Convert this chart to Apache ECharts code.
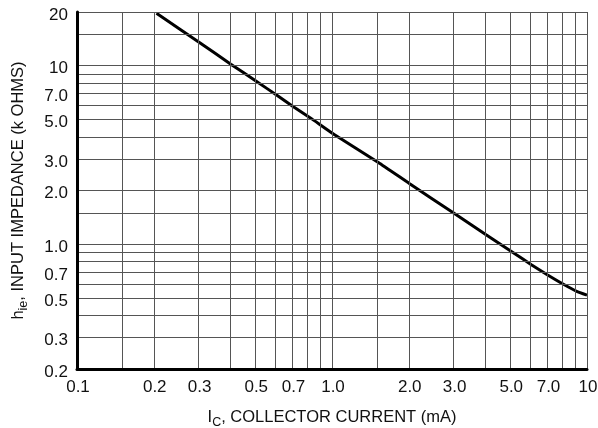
<!DOCTYPE html>
<html>
<head>
<meta charset="utf-8">
<script src="https://cdn.jsdelivr.net/npm/echarts@6/dist/echarts.min.js"></script>
<style>html,body{margin:0;padding:0;background:#fff}#c{width:598px;height:428px}</style>
</head>
<body>
<div id="c"></div>
<script>
// Collector current (mA) and input impedance (k ohms)
const currentMA = [0.205, 0.302, 0.401, 0.503, 0.612, 0.701, 0.82, 1.02, 1.52, 2.01, 2.99, 4.02, 5.07, 6.07, 7.01, 8.15, 9.11, 10];
const hieKOhm   = [19.7, 13.5, 10.2, 8.21, 6.79, 5.93, 5.12, 4.12, 2.87, 2.19, 1.50, 1.13, 0.908, 0.765, 0.673, 0.593, 0.545, 0.519];

// grid lines
const xGrid = [0.15, 0.2, 0.3, 0.4, 0.5, 0.6, 0.7, 0.8, 0.9, 1.0, 1.5, 2, 3, 4, 5, 6, 7, 8, 9, 10];
const yGrid = [0.3, 0.4, 0.5, 0.6, 0.7, 0.8, 0.9, 1.0, 1.5, 2, 3, 4, 5, 6, 7, 8, 9, 10, 15, 20];
// tick labels
const xTickValues = [0.1, 0.2, 0.3, 0.5, 0.7, 1.0, 2.0, 3.0, 5.0, 7.0, 10];
const xTickLabels = ['0.1', '0.2', '0.3', '0.5', '0.7', '1.0', '2.0', '3.0', '5.0', '7.0', '10'];
const yTickValues = [0.2, 0.3, 0.5, 0.7, 1.0, 2.0, 3.0, 5.0, 7.0, 10, 20];
const yTickLabels = ['0.2', '0.3', '0.5', '0.7', '1.0', '2.0', '3.0', '5.0', '7.0', '10', '20'];

const FONT = '"Liberation Sans", Arial, sans-serif';
const LBL = { color: '#111', fontFamily: FONT, fontSize: 17 };
const GRID_COLOR = '#555';

function buildMarks(gridVals, tickVals, tickLabels, key, dist, offset) {
  const all = Array.from(new Set(gridVals.concat(tickVals))).sort((a, b) => a - b);
  return all.map(v => {
    const inGrid = gridVals.indexOf(v) >= 0;
    const ti = tickVals.indexOf(v);
    const item = {};
    item[key] = v;
    item.lineStyle = { color: inGrid ? GRID_COLOR : 'rgba(0,0,0,0)', width: 1, type: 'solid' };
    item.label = ti >= 0
      ? Object.assign({ show: true, position: 'start', distance: dist, offset: offset, formatter: tickLabels[ti] }, LBL)
      : { show: false };
    return item;
  });
}

const chart = echarts.init(document.getElementById('c'), null, { renderer: 'canvas' });
chart.setOption({
  animation: false,
  backgroundColor: '#fff',
  grid: { left: 77, right: 11, top: 12, bottom: 59, containLabel: false, outerBoundsMode: 'none' },
  xAxis: {
    type: 'log', logBase: 10, min: 0.1, max: 10, z: 5,
    axisLine: { show: true, lineStyle: { color: '#000', width: 3 } },
    axisTick: { show: false }, axisLabel: { show: false }, splitLine: { show: false },
    name: '{n|I}{s|C}{n|, COLLECTOR CURRENT (mA)}',
    nameLocation: 'middle', nameGap: 37,
    nameTextStyle: {
      rich: {
        n: { fontFamily: FONT, fontSize: 16.5, color: '#111' },
        s: { fontFamily: FONT, fontSize: 12.5, color: '#111', padding: [10, 0, 0, 0] }
      }
    }
  },
  yAxis: {
    type: 'log', logBase: 10, min: 0.2, max: 20, z: 5,
    axisLine: { show: true, lineStyle: { color: '#000', width: 3 } },
    axisTick: { show: false }, axisLabel: { show: false }, splitLine: { show: false },
    name: '{n|h}{s|ie}{n|, INPUT IMPEDANCE (k OHMS)}',
    nameLocation: 'middle', nameGap: 47, nameRotate: 90,
    nameTextStyle: {
      rich: {
        n: { fontFamily: FONT, fontSize: 16.5, color: '#111' },
        s: { fontFamily: FONT, fontSize: 12.5, color: '#111', padding: [10, 0, 0, 0] }
      }
    }
  },
  series: [
    {
      type: 'line', data: [], silent: true,
      markLine: { silent: true, symbol: ['none', 'none'], animation: false,
        data: buildMarks(xGrid, xTickValues, xTickLabels, 'xAxis', 10, [1, 0]) }
    },
    {
      type: 'line', data: [], silent: true,
      markLine: { silent: true, symbol: ['none', 'none'], animation: false,
        data: buildMarks(yGrid, yTickValues, yTickLabels, 'yAxis', 9, [0, 3]) }
    },
    {
      type: 'line', z: 4,
      data: currentMA.map((x, i) => [x, hieKOhm[i]]),
      showSymbol: false, smooth: 0.15,
      lineStyle: { color: '#000', width: 3 }
    }
  ]
});
</script>
</body>
</html>
